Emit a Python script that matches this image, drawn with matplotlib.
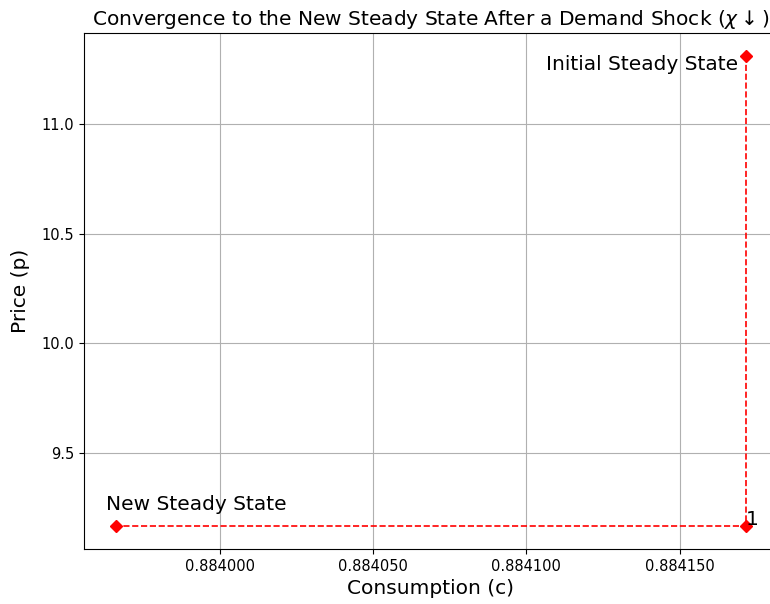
import numpy as np
import matplotlib
matplotlib.use("Agg")
import matplotlib.pyplot as plt
from matplotlib.ticker import FormatStrFormatter

# path from initial steady state to new steady state
c_path = [0.8841715, 0.8841715, 0.883966]
p_path = [11.311, 9.166, 9.166]
labels = ["Initial Steady State", "1", "New Steady State"]

fig = plt.figure(figsize=(7.7, 6.04), dpi=100)
ax = fig.add_axes([84/770, 55/604, (777-84)/770, (549-33)/604])

ax.plot(c_path, p_path, 'r--', marker='D', markersize=6, linewidth=1.2)

ax.annotate(labels[0], (c_path[0], p_path[0]), xytext=(-5, 1), textcoords='offset points',
            ha='right', va='top', fontsize=14.5)
ax.annotate(labels[1], (c_path[1], p_path[1]), xytext=(0, 4), textcoords='offset points',
            ha='left', va='center', fontsize=14.5)
ax.annotate(labels[2], (c_path[2], p_path[2]), xytext=(-7, 8), textcoords='offset points',
            ha='left', va='bottom', fontsize=14.5)

ax.xaxis.set_major_formatter(FormatStrFormatter('%.6f'))
ax.set_xlabel("Consumption (c)", fontsize=14.5)
ax.set_ylabel("Price (p)", fontsize=14.5, labelpad=8)
ax.set_title(r"Convergence to the New Steady State After a Demand Shock ($\chi\downarrow$)", fontsize=14.5)
ax.tick_params(labelsize=10.5)
ax.grid(True)

fig.savefig("out.png", dpi=100)
